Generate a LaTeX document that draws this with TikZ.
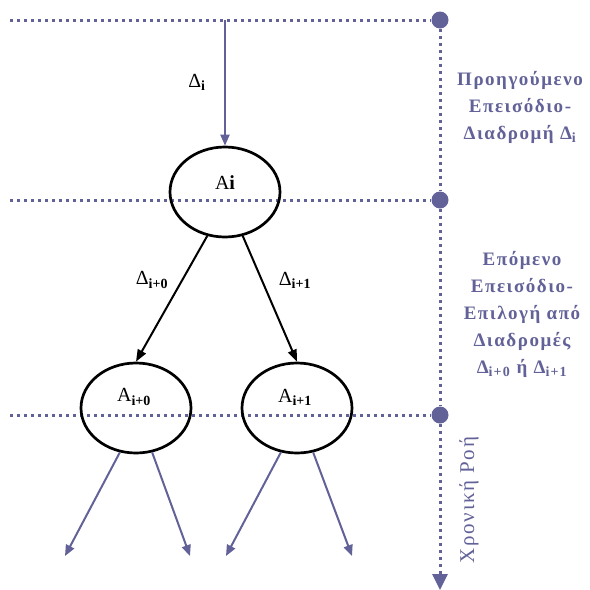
\documentclass[tikz,border=0pt]{standalone}
\usepackage{fontspec}
\setmainfont{Liberation Serif}
\newfontfamily\sidefont[LetterSpace=8]{Liberation Serif}
\usetikzlibrary{arrows.meta,shapes.geometric}
\definecolor{flow}{RGB}{98,98,152}
\newcommand{\sbx}[1]{\textsubscript{\bfseries\fontsize{14}{14}\selectfont #1}}
\begin{document}
\begin{tikzpicture}[x=1pt,y=-1pt,
  guide/.style={flow,line width=3pt,dash pattern=on 3pt off 4pt},
  dot/.style={circle,fill=flow,minimum size=17pt,inner sep=0pt},
  ev/.style={ellipse,draw=black,line width=2.7pt,minimum width=110pt,minimum height=90pt,inner sep=0pt},
  flowarrow/.style={flow,line width=2pt,-{Triangle[length=11pt,width=9pt]}},
  choice/.style={black,line width=2pt,-{Triangle[length=12pt,width=9pt]}},
  lbl/.style={font=\fontsize{20}{22}\selectfont,inner sep=0pt},
  side/.style={flow,font=\sidefont\bfseries\fontsize{19}{27}\selectfont,align=center,inner sep=0pt}]
\useasboundingbox (0,0) rectangle (590,590);
% guide nodes
\node[dot] (d1) at (440,20) {};
\node[dot] (d2) at (440,200) {};
\node[dot] (d3) at (440,415) {};
\coordinate (h1) at (10,20);
\coordinate (h2) at (10,200);
\coordinate (h3) at (10,415);
\coordinate (tend) at (440,590);
\draw[guide] (h1) -- (d1);
\draw[guide] (h2) -- (d2);
\draw[guide] (h3) -- (d3);
\draw[guide] (d1) -- (d2);
\draw[guide] (d2) -- (d3);
\draw[guide,-{Triangle[length=16pt,width=15pt]}] (d3) -- (tend);
% states
\node[ev] (ai) at (225,192) {};
\node[ev] (l0) at (136,408) {};
\node[ev] (l1) at (297,408) {};
\node[lbl] (tai) at (225,183) {A\textbf{i}};
\node[lbl] (tl0) at (134,397) {A\sbx{i+0}};
\node[lbl] (tl1) at (295,397) {A\sbx{i+1}};
% connectors
\coordinate (t0) at (225,20);
\draw[flowarrow] (t0) -- (ai.north);
\node[lbl] (di) at (197,82) {Δ\sbx{i}};
\draw[choice] (ai.-112) -- (l0.north);
\draw[choice] (ai.-68) -- (l1.north);
\node[lbl] (d0) at (152,280) {Δ\sbx{i+0}};
\node[lbl] (dd1) at (295,280) {Δ\sbx{i+1}};
\coordinate (e1) at (65,556);
\coordinate (e2) at (190,556);
\coordinate (e3) at (226,556);
\coordinate (e4) at (352,556);
\draw[flowarrow] (l0.-110) -- (e1);
\draw[flowarrow] (l0.-70) -- (e2);
\draw[flowarrow] (l1.-110) -- (e3);
\draw[flowarrow] (l1.-70) -- (e4);
% side texts
\node[side] (prev) at (520,107) {Προηγούμενο\\Επεισόδιο-\\Διαδρομή Δ\sbx{i}};
\node[side] (next) at (522,314) {Επόμενο\\Επεισόδιο-\\Επιλογή από\\Διαδρομές\\Δ\sbx{i+0} ή Δ\sbx{i+1}};
\node[flow,font=\sidefont\fontsize{21}{24}\selectfont,inner sep=0pt,rotate=90] (time) at (469,500) {Χρονική Ροή};
\end{tikzpicture}
\end{document}
